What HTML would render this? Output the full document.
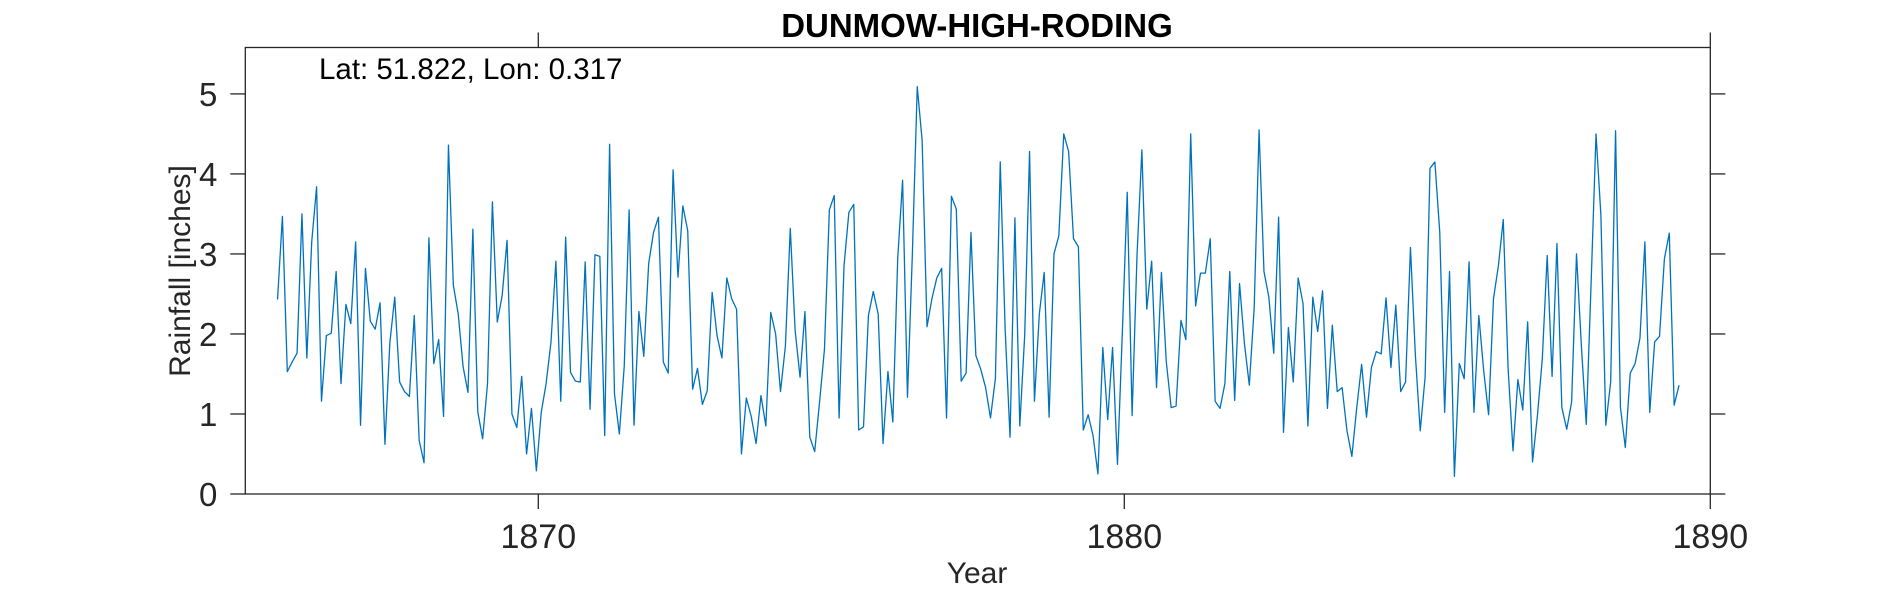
<!DOCTYPE html>
<html><head><meta charset="utf-8"><style>
html,body{margin:0;padding:0;background:#fff;}
svg{display:block;}
text{font-family:"Liberation Sans",Arial,sans-serif;fill:#262626;}
</style></head><body>
<svg id="chart" width="1890" height="591" viewBox="0 0 1890 591" xmlns="http://www.w3.org/2000/svg">
<text x="977" y="37" text-anchor="middle" font-size="33" font-weight="bold" style="fill:#000">DUNMOW-HIGH-RODING</text>
<g id="axes"></g>
<text x="319" y="79" font-size="29.5" style="fill:#000">Lat: 51.822, Lon: 0.317</text>
<text transform="translate(190,271) rotate(-90)" text-anchor="middle" font-size="30">Rainfall [inches]</text>
<text x="977" y="583" text-anchor="middle" font-size="30">Year</text>
</svg>
<script>
const startYear = 1865 + 6.6/12;
const monthStep = 1/12;
const rainfall = [
2.43,3.47,1.53,1.65,1.76,3.50,1.70,3.15,3.84,1.16,1.98,2.01,2.78,1.38,2.37,2.13,3.15,0.86,2.82,2.16,2.06,2.39,0.62,1.89,2.46,1.40,1.28,1.22,2.23,0.67,0.39,3.20,
1.63,1.93,0.97,4.36,2.61,2.25,1.59,1.27,3.31,1.03,0.69,1.38,3.65,2.15,2.48,3.17,1.00,0.83,1.47,0.50,1.07,0.29,1.02,1.38,1.90,2.91,1.16,3.21,1.52,1.41,1.40,2.90,
1.06,2.99,2.97,0.73,4.37,1.25,0.75,1.60,3.55,0.86,2.28,1.72,2.88,3.27,3.46,1.65,1.51,4.05,2.71,3.60,3.29,1.31,1.57,1.12,1.29,2.52,1.98,1.70,2.70,2.44,2.31,0.50,1.20,
0.97,0.63,1.23,0.85,2.27,2.00,1.28,1.85,3.32,2.04,1.46,2.28,0.71,0.53,1.15,1.81,3.55,3.73,0.95,2.85,3.52,3.62,0.80,0.84,2.23,2.53,2.25,0.63,1.53,0.90,2.94,3.92,1.21,
3.00,5.09,4.42,2.09,2.44,2.70,2.82,0.95,3.72,3.56,1.41,1.51,3.27,1.73,1.56,1.33,0.95,1.44,4.15,2.06,0.71,3.45,0.85,1.98,4.28,1.16,2.25,2.77,0.96,3.00,3.23,4.50,4.28,
3.19,3.09,0.80,0.99,0.73,0.25,1.83,0.93,1.83,0.37,2.02,3.77,0.98,2.98,4.30,2.31,2.91,1.33,2.77,1.65,1.08,1.10,2.17,1.93,4.50,2.35,2.76,2.76,3.19,1.16,1.07,1.38,2.78,
1.17,2.63,1.88,1.36,2.33,4.55,2.78,2.46,1.76,3.46,0.77,2.08,1.40,2.70,2.38,0.85,2.46,2.03,2.54,1.07,2.11,1.28,1.33,0.79,0.47,1.08,1.62,0.96,1.58,1.78,1.75,2.45,
1.58,2.36,1.28,1.40,3.08,1.74,0.79,1.46,4.07,4.15,3.27,1.02,2.78,0.22,1.63,1.44,2.90,1.02,2.23,1.54,0.99,2.44,2.85,3.43,1.56,0.54,1.43,1.05,2.15,0.40,0.98,1.69,2.98,
1.47,3.13,1.08,0.81,1.15,3.00,1.85,0.87,2.65,4.50,3.48,0.86,1.40,4.54,1.08,0.58,1.51,1.63,1.95,3.15,1.02,1.90,1.97,2.94,3.26,1.11,1.36
];
const xTicks = [1870, 1880, 1890];
const yTicks = [0, 1, 2, 3, 4, 5];
const topTicks = [1870, 1890];
const xMin = 1865, xMax = 1890, yMin = 0, yMax = 5.58;

const L = 245.3, R = 1710.3, T = 47.5, B = 494;
const xs = v => L + (v - xMin) / (xMax - xMin) * (R - L);
const ys = v => B - (v - yMin) / (yMax - yMin) * (B - T);
const NS = 'http://www.w3.org/2000/svg';
const axes = document.getElementById('axes');
function mk(tag, attrs) {
  const e = document.createElementNS(NS, tag);
  for (const k in attrs) e.setAttribute(k, attrs[k]);
  return e;
}
const box = mk('rect', {x: L, y: T, width: R - L, height: B - T, fill: 'none', stroke: '#262626', 'stroke-width': 1.3});


axes.appendChild(box);
const TL = 15;
yTicks.forEach(v => {
  const y = ys(v);
  const t1 = mk('line', {x1: L - TL, x2: L, y1: y, y2: y, stroke: '#262626', 'stroke-width': 1.3});
  
  
  axes.appendChild(t1);
  const t2 = mk('line', {x1: R, x2: R + TL, y1: y, y2: y, stroke: '#262626', 'stroke-width': 1.3});
  
  
  axes.appendChild(t2);
  const lb = mk('text', {x: L - 28, y: y + 12, 'text-anchor': 'end', 'font-size': 33});
  lb.textContent = v;
  
  
  axes.appendChild(lb);
});
xTicks.forEach(v => {
  const x = xs(v);
  const t1 = mk('line', {x1: x, x2: x, y1: B, y2: B + TL, stroke: '#262626', 'stroke-width': 1.3});
  
  
  axes.appendChild(t1);
  const lb = mk('text', {x: x, y: 548, 'text-anchor': 'middle', 'font-size': 34});
  lb.textContent = v;
  
  
  axes.appendChild(lb);
});
topTicks.forEach(v => {
  const x = xs(v);
  const t2 = mk('line', {x1: x, x2: x, y1: T - TL, y2: T, stroke: '#262626', 'stroke-width': 1.3});
  
  
  axes.appendChild(t2);
});
const pts = rainfall.map((v, i) => xs(startYear + i * monthStep).toFixed(2) + ',' + ys(v).toFixed(2)).join(' ');
const line = mk('polyline', {points: pts, fill: 'none', stroke: '#0072BD', 'stroke-width': 1.3, 'stroke-linejoin': 'round'});


axes.appendChild(line);
</script>
</body></html>
